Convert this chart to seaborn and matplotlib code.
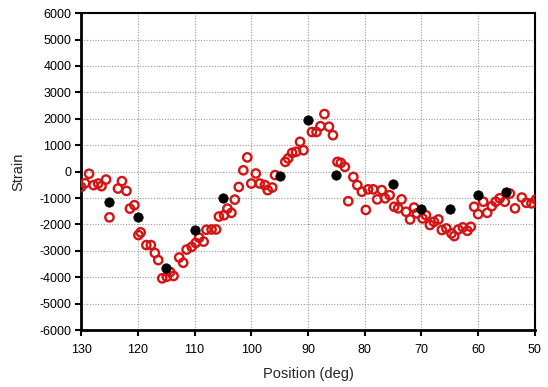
import matplotlib
matplotlib.use("Agg")
import matplotlib.pyplot as plt
import seaborn as sns
import pandas as pd
from matplotlib.ticker import FuncFormatter

# Measured (red hollow) series
red_pos = [130.0, 129.3, 128.6, 127.8, 127.0, 126.4, 125.6, 125.0, 123.5, 122.8, 122.0,
           121.4, 120.6, 119.9, 119.5, 118.5, 117.7, 117.0, 116.4, 115.7, 114.9, 114.3,
           113.7, 112.7, 112.0, 111.4, 110.5, 109.8, 109.2, 108.4, 107.9, 107.0, 106.2,
           105.7, 104.8, 104.2, 103.5, 102.9, 102.2, 101.4, 100.7, 100.0, 99.2, 98.5,
           97.6, 97.1, 96.3, 95.8, 94.0, 93.5, 92.8, 92.1, 91.4, 90.8, 89.3, 88.5, 87.8,
           87.1, 86.3, 85.6, 84.8, 84.2, 83.5, 82.9, 82.0, 81.3, 80.5, 79.8, 79.4, 78.5,
           77.8, 77.0, 76.4, 75.6, 74.8, 74.1, 73.5, 72.7, 72.0, 71.3, 70.8, 69.8, 69.2,
           68.5, 67.8, 67.0, 66.4, 65.6, 64.7, 64.2, 63.5, 62.7, 61.9, 61.3, 60.7, 60.0,
           59.1, 58.4, 57.6, 56.9, 56.2, 55.3, 54.4, 53.5, 52.3, 51.5, 50.6, 49.8]
red_strain = [-580, -440, -80, -510, -450, -550, -300, -1730, -640, -360, -730,
              -1400, -1270, -2400, -2300, -2780, -2780, -3080, -3350, -4040, -3980, -3800,
              -3950, -3250, -3450, -2950, -2850, -2700, -2500, -2650, -2200, -2190, -2190,
              -1700, -1650, -1400, -1560, -1060, -580, 50, 540, -450, -70, -450,
              -510, -700, -600, -130, 370, 500, 710, 750, 1130, 810, 1500, 1500, 1720,
              2180, 1700, 1380, 370, 330, 180, -1120, -200, -510, -760, -1450, -670, -670,
              -1050, -700, -1010, -890, -1330, -1390, -1050, -1520, -1810, -1360, -1580, -1770, -1650,
              -2020, -1900, -1810, -2210, -2150, -2340, -2440, -2190, -2110, -2240, -2090, -1330, -1610,
              -1140, -1560, -1310, -1140, -1010, -1140, -830, -1390, -980, -1180, -1200, -1050]

# Reference (black filled) series
blk_pos = [125, 120, 115, 110, 105, 95, 90, 85, 75, 70, 65, 60, 55]
blk_strain = [-1150, -1700, -3650, -2200, -1000, -150, 1950, -130, -480, -1400, -1400, -900, -780]

x_ticks = list(range(50, 131, 10))
y_ticks = list(range(-6000, 6001, 1000))

sns.set_theme(style="white")
plt.rcParams['font.family'] = ['Liberation Sans', 'DejaVu Sans']

fig = plt.figure(figsize=(5.48, 3.87), dpi=100)
ax = fig.add_axes([0.148, 0.147, 0.828, 0.819])

red_df = pd.DataFrame({"pos": red_pos, "strain": red_strain})
blk_df = pd.DataFrame({"pos": blk_pos, "strain": blk_strain})

sns.scatterplot(data=red_df, x="pos", y="strain", ax=ax, s=36, marker="o",
                facecolor="none", edgecolor="#d41414", linewidth=1.7, zorder=3)
sns.scatterplot(data=blk_df, x="pos", y="strain", ax=ax, s=46, marker="o",
                color="black", edgecolor="black", linewidth=0.5, zorder=4)

ax.set_xlim(130, 50)
ax.set_ylim(-6000, 6000)
ax.set_xticks(x_ticks)
ax.set_yticks(y_ticks)
ax.yaxis.set_major_formatter(FuncFormatter(lambda v, p: f"{int(v)}"))
ax.xaxis.set_major_formatter(FuncFormatter(lambda v, p: f"{int(v)}"))

ax.grid(True, color="#999999", linestyle=(0, (1, 1.5)), linewidth=0.8)
ax.set_axisbelow(True)

for side in ["left", "bottom"]:
    ax.spines[side].set_linewidth(2.0)
    ax.spines[side].set_color("black")
for side in ["top", "right"]:
    ax.spines[side].set_linewidth(1.5)
    ax.spines[side].set_color("black")

ax.tick_params(axis="both", which="major", direction="out", length=4, width=1.5,
               labelsize=9, colors="black", bottom=True, left=True)
ax.tick_params(axis="x", pad=6)
ax.tick_params(axis="y", pad=3)
ax.set_xlabel("Position (deg)", fontsize=10.5, labelpad=8)
ax.set_ylabel("Strain", fontsize=10.5, labelpad=10)

fig.savefig("out.png", dpi=100)
